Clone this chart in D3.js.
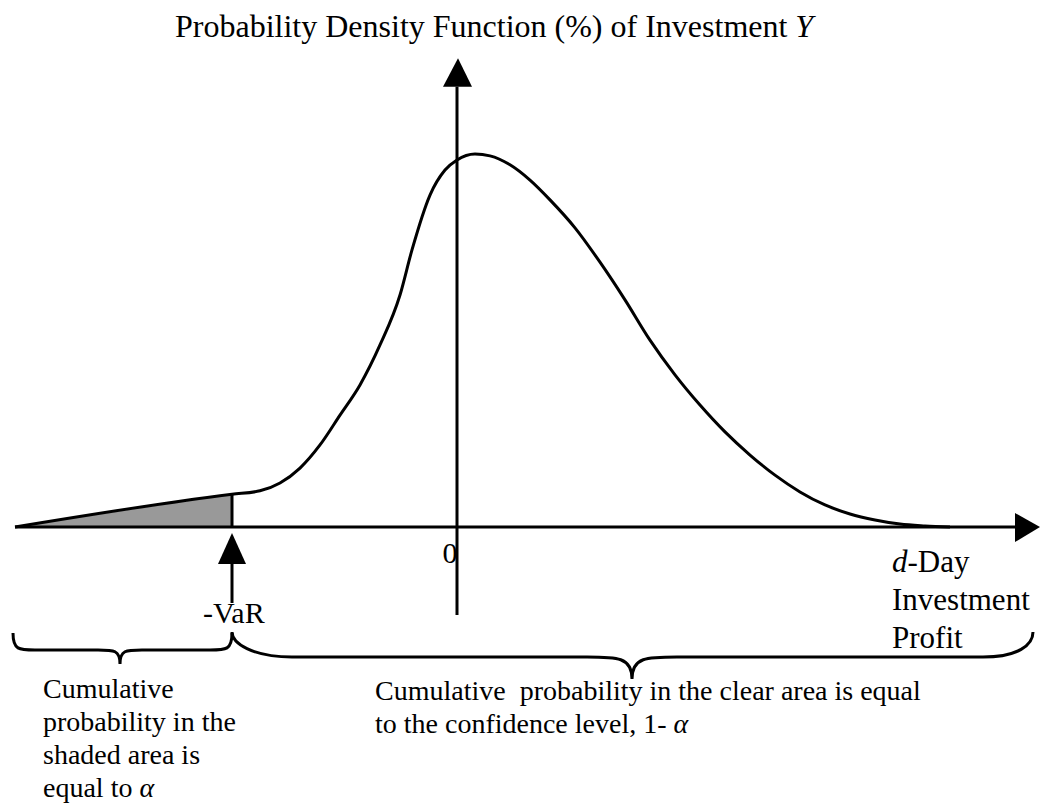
<!DOCTYPE html>
<html>
<head>
<meta charset="utf-8">
<script src="https://cdn.jsdelivr.net/npm/d3@7"></script>
<style>
  html, body { margin: 0; padding: 0; background: #fff; }
  svg { display: block; }
  text { font-family: "Liberation Serif", "Times New Roman", serif; fill: #000; white-space: pre; }
</style>
</head>
<body>
<svg id="chart" width="1040" height="807"></svg>
<script>
// ---------------- data ----------------
const profit  = [-4.42, -2.25, -1.97, -1.77, -1.57, -1.37, -1.17, -0.97, -0.77, -0.57, -0.45, -0.27, -0.12, 0, 0.18, 0.33, 0.53, 0.73, 0.93, 1.18, 1.43, 1.68, 1.93, 2.18, 2.43, 2.68, 2.93, 3.18, 3.43, 3.68, 3.93, 4.18, 4.43, 4.68, 4.93];
const density = [0, 0.88, 0.97, 1.18, 1.58, 2.2, 3.0, 3.81, 4.88, 6.22, 7.43, 8.9, 9.57, 9.84, 10.0, 9.95, 9.71, 9.30, 8.77, 8.02, 7.10, 6.09, 5.01, 4.08, 3.27, 2.55, 1.93, 1.39, 0.94, 0.59, 0.35, 0.19, 0.08, 0.03, 0];
const varValue = -2.25;
const tickValues = [0];
const tickLabels = ["0"];
const titleText = "Probability Density Function (%) of Investment ";
const titleItalic = "Y";
const xLabelLines = ["-Day", "Investment", "Profit"];
const leftNote = ["Cumulative", "probability in the", "shaded area is", "equal to "];
const rightNote = ["Cumulative  probability in the clear area is equal", "to the confidence level, 1- "];

// ---------------- scales ----------------
const svg = d3.select("#chart");
const x = d3.scaleLinear().domain([-4.5, 5.5]).range([7, 1007]);
const y = d3.scaleLinear().domain([0, 10]).range([527, 154]);

const pts = profit.map((p, i) => [p, density[i]]);
const varDensity = density[profit.indexOf(varValue)];

// shaded area (left tail up to -VaR)
const tail = pts.filter(d => d[0] <= varValue);
svg.append("path")
  .datum(tail.concat([[varValue, 0]]))
  .attr("d", d3.line().x(d => x(d[0])).y(d => y(d[1])))
  .attr("fill", "#999999")
  .attr("stroke", "none");

// -VaR vertical line
svg.append("line")
  .attr("x1", x(varValue)).attr("x2", x(varValue))
  .attr("y1", y(0)).attr("y2", y(varDensity))
  .attr("stroke", "#000").attr("stroke-width", 3);

// horizontal axis (line + arrow)
const xmin = profit[0];
svg.append("line")
  .attr("x1", x(xmin)).attr("x2", x(5.58))
  .attr("y1", y(0)).attr("y2", y(0))
  .attr("stroke", "#000").attr("stroke-width", 3);
svg.append("path")
  .attr("d", `M${x(5.58)},${y(0) - 14} L${x(5.83)},${y(0)} L${x(5.58)},${y(0) + 15} Z`)
  .attr("fill", "#000");

// vertical axis (line + arrow)
svg.append("line")
  .attr("x1", x(0)).attr("x2", x(0))
  .attr("y1", y(-2.36)).attr("y2", y(11.8))
  .attr("stroke", "#000").attr("stroke-width", 3);
svg.append("path")
  .attr("d", `M${x(0) - 14},${y(11.8)} L${x(0) + 1},${y(12.57)} L${x(0) + 15},${y(11.8)} Z`)
  .attr("fill", "#000");

// tick label "0" via d3 axis
const xAxis = d3.axisBottom(x).tickValues(tickValues).tickFormat((d, i) => tickLabels[i]).tickSize(0).tickSizeOuter(0);
const gx = svg.append("g").attr("transform", `translate(0,${y(0)})`).call(xAxis);
gx.select(".domain").remove();
gx.selectAll("text")
  .attr("text-anchor", "end")
  .attr("x", 0).attr("dx", 0)
  .attr("y", 36).attr("dy", 0)
  .style("font-family", "'Liberation Serif','Times New Roman',serif")
  .style("font-size", "30px");

// density curve
svg.append("path")
  .datum(pts)
  .attr("d", d3.line().x(d => x(d[0])).y(d => y(d[1])).curve(d3.curveMonotoneX))
  .attr("fill", "none")
  .attr("stroke", "#000")
  .attr("stroke-width", 3)
  .attr("stroke-linejoin", "round");

// -VaR arrow
const vx = x(varValue);
svg.append("path")
  .attr("d", `M${vx},${y(0) + 6} L${vx - 14},${y(0) + 37} L${vx + 14},${y(0) + 37} Z`)
  .attr("fill", "#000");
svg.append("line")
  .attr("x1", vx).attr("x2", vx)
  .attr("y1", y(0) + 35).attr("y2", y(0) + 76)
  .attr("stroke", "#000").attr("stroke-width", 3);
svg.append("text")
  .attr("x", vx - 29).attr("y", 623)
  .style("font-size", "30px")
  .text("-VaR");

// title
const t = svg.append("text").attr("x", 175).attr("y", 37).style("font-size", "32px");
t.append("tspan").text(titleText);
t.append("tspan").style("font-style", "italic").text(titleItalic);

// x label
const xl = svg.append("text").attr("x", 892).attr("y", 572).style("font-size", "31px");
xl.append("tspan").style("font-style", "italic").text("d");
xl.append("tspan").text(xLabelLines[0]);
xLabelLines.slice(1).forEach((s, i) => {
  svg.append("text").attr("x", 892).attr("y", 572 + 38 * (i + 1)).style("font-size", "31px").text(s);
});

// braces
function brace(x0, x1, yTop, yMid, yTip, xTip) {
  const r = 22;
  return `M${x0},${yTop} C${x0},${yMid} ${x0 + 6},${yMid} ${x0 + r},${yMid} ` +
         `L${xTip - r},${yMid} C${xTip - 6},${yMid} ${xTip},${yMid} ${xTip},${yTip} ` +
         `C${xTip},${yMid} ${xTip + 6},${yMid} ${xTip + r},${yMid} ` +
         `L${x1 - r},${yMid} C${x1 - 6},${yMid} ${x1},${yMid} ${x1},${yTop}`;
}
svg.append("path")
  .attr("d", brace(x(-4.44), x(varValue), 633, 650, 664, x(-3.37)))
  .attr("fill", "none").attr("stroke", "#000").attr("stroke-width", 3);
function braceWide(x0, x1, yTop, yMid, yTip, xTip) {
  return `M${x0},${yTop} C${x0},${yMid - 14} ${x0 + 20},${yMid} ${x0 + 60},${yMid} ` +
         `L${xTip - 45},${yMid} C${xTip - 15},${yMid} ${xTip},${yMid} ${xTip},${yTip} ` +
         `C${xTip},${yMid} ${xTip + 15},${yMid} ${xTip + 45},${yMid} ` +
         `L${x1 - 50},${yMid} C${x1 - 15},${yMid} ${x1},${yMid - 12} ${x1},${yTop}`;
}
svg.append("path")
  .attr("d", braceWide(x(varValue), x(5.76), 632, 657, 679, x(1.75)))
  .attr("fill", "none").attr("stroke", "#000").attr("stroke-width", 3);

// notes
leftNote.forEach((s, i) => {
  const tx = svg.append("text").attr("x", 43).attr("y", 698 + 33 * i).style("font-size", "28px");
  tx.append("tspan").text(s);
  if (i === leftNote.length - 1) tx.append("tspan").style("font-style", "italic").text("α");
});
rightNote.forEach((s, i) => {
  const tx = svg.append("text").attr("x", 375).attr("y", 700 + 33 * i).style("font-size", "28px");
  tx.append("tspan").text(s);
  if (i === rightNote.length - 1) tx.append("tspan").style("font-style", "italic").text("α");
});
</script>
</body>
</html>
